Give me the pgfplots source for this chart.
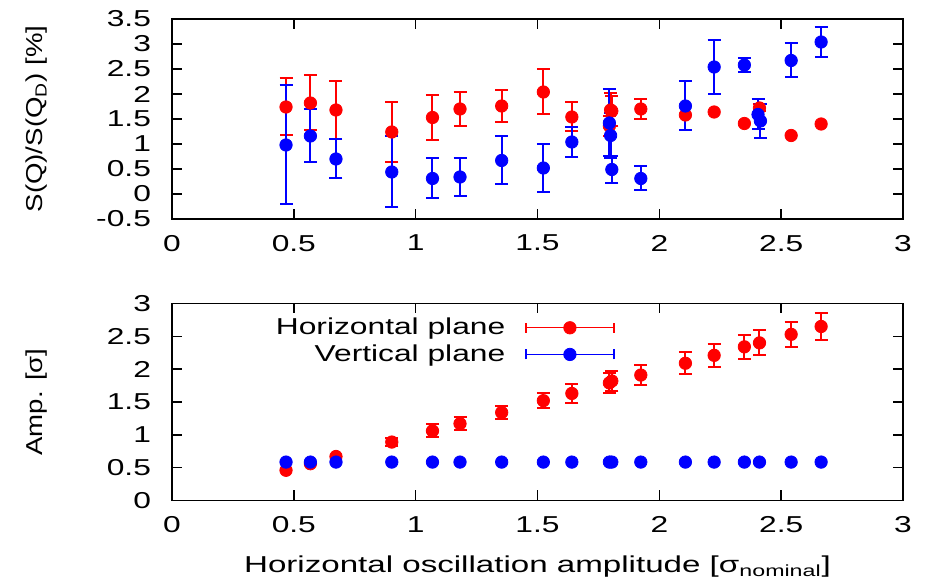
\documentclass[border=0pt]{standalone}
\usepackage{fontspec}
\setmainfont{Liberation Sans}[FakeStretch=1.38]
\newfontfamily\ylfont{Liberation Sans}[FakeStretch=1.2]
\newfontfamily\xlfont{Liberation Sans}[FakeStretch=1.44]
\usepackage{pgfplots}
\usepackage{pgfplotstable}
\pgfplotsset{compat=1.18}

\pgfplotstableread{
x y e
0.468 1.74 0.57
0.568 1.82 0.55
0.673 1.68 0.58
0.902 1.24 0.60
1.069 1.53 0.45
1.182 1.70 0.34
1.353 1.76 0.32
1.524 2.04 0.45
1.641 1.54 0.29
1.795 1.36 0.20
1.800 1.68 0.33
1.805 1.66 0.30
1.924 1.70 0.20
2.411 1.72 0.07
}\topredE
\pgfplotstableread{
x y
2.107 1.58
2.225 1.64
2.349 1.41
2.541 1.17
2.664 1.40
}\topredN
\pgfplotstableread{
x y e
0.468 0.98 1.19
0.568 1.16 0.53
0.673 0.70 0.39
0.902 0.44 0.71
1.069 0.31 0.40
1.182 0.34 0.38
1.353 0.67 0.48
1.524 0.52 0.48
1.641 1.04 0.30
1.795 1.42 0.67
1.800 1.17 0.45
1.805 0.49 0.27
1.924 0.31 0.24
2.107 1.76 0.49
2.225 2.54 0.54
2.349 2.58 0.14
2.405 1.59 0.30
2.415 1.46 0.34
2.541 2.67 0.34
2.664 3.04 0.30
}\topblue
\pgfplotstableread{
x y e
0.902 0.89 0.06
1.069 1.06 0.10
1.182 1.17 0.10
1.353 1.34 0.10
1.524 1.52 0.11
1.641 1.63 0.14
1.795 1.79 0.15
1.805 1.82 0.15
1.924 1.91 0.15
2.107 2.09 0.17
2.225 2.21 0.17
2.349 2.34 0.18
2.411 2.40 0.19
2.541 2.53 0.19
2.664 2.65 0.21
}\botredE
\pgfplotstableread{
x y
0.468 0.46
0.568 0.56
0.673 0.67
}\botredN
\pgfplotstableread{
x y
0.468 0.585
0.568 0.585
0.673 0.585
0.902 0.585
1.069 0.585
1.182 0.585
1.353 0.585
1.524 0.585
1.641 0.585
1.795 0.585
1.805 0.585
1.924 0.585
2.107 0.585
2.225 0.585
2.349 0.585
2.411 0.585
2.541 0.585
2.664 0.585
}\botblue

\pgfplotsset{
  gp/.style={
    scale only axis, width=365.5pt,
    xmin=0, xmax=3, xtick={0,0.5,1,1.5,2,2.5,3},
    tick align=inside, xtick pos=both, ytick pos=both,
    xticklabel pos=lower, yticklabel pos=left,
    major tick length=5pt,
    axis line style={line width=0.7pt},
    every tick/.style={black, line width=0.7pt},
    /pgf/number format/assume math mode=true,
    tick label style={font=\fontsize{11.5}{13}\selectfont},
    yticklabel style={xshift=-7pt},
    xticklabel style={yshift=-4.5pt},
  },
  pr/.style={red, only marks, mark=*, mark size=3.1pt, mark options={solid, fill=red, draw=red}},
  pb/.style={blue, only marks, mark=*, mark size=3.1pt, mark options={solid, fill=blue, draw=blue}},
  eb/.style={error bars/.cd, y dir=both, y explicit, error mark=|,
    error bar style={line width=1pt},
    error mark options={line width=1pt, mark size=3.25pt}, /pgfplots/.cd},
}

\begin{document}
\begin{tikzpicture}
\useasboundingbox (-86pt,-184pt) rectangle (377.5pt,109.5pt);
\begin{axis}[gp, height=100pt, at={(0pt,0pt)}, anchor=south west,
  ymin=-0.5, ymax=3.5, ytick={-0.5,0,0.5,1,1.5,2,2.5,3,3.5},
  ylabel={S(Q)/S(Q\textsubscript{D}) [\%]},
  ylabel style={at={(axis description cs:-0.1847,0.5)}, anchor=center, font=\ylfont\fontsize{11.5}{13}\selectfont},
]
\addplot[pr, eb] table[x=x, y=y, y error=e] {\topredE};
\addplot[pr] table[x=x, y=y] {\topredN};
\addplot[pb, eb] table[x=x, y=y, y error=e] {\topblue};
\end{axis}

\begin{axis}[gp, height=98.5pt, at={(0pt,-140.75pt)}, anchor=south west,
  ymin=0, ymax=3, ytick={0,0.5,1,1.5,2,2.5,3},
  ylabel={Amp. [σ]},
  ylabel style={at={(axis description cs:-0.1847,0.5)}, anchor=center, font=\ylfont\fontsize{11.5}{13}\selectfont},
  xlabel={Horizontal oscillation amplitude [σ\textsubscript{nominal}]},
  xlabel style={at={(axis description cs:0.5,-0.335)}, anchor=center, font=\xlfont\fontsize{11.5}{13}\selectfont},
  legend image code/.code={
    \draw[#1, line width=0.65pt] (0pt,0pt) -- (44pt,0pt);
    \draw[#1, line width=0.65pt] (0pt,-2.5pt) -- (0pt,2.5pt);
    \draw[#1, line width=0.65pt] (44pt,-2.5pt) -- (44pt,2.5pt);
    \fill[#1] (22pt,0pt) circle (3.1pt);
  },
  legend plot pos=right,
  legend cell align=right,
  legend style={draw=none, fill=none, at={(0.606,0.809)}, anchor=east,
    inner sep=0pt, font=\fontsize{11.5}{13}\selectfont,
    row sep=1.5pt, column sep=9pt, nodes={inner sep=1pt}},
]
\addlegendimage{red}
\addlegendentry{Horizontal plane}
\addlegendimage{blue}
\addlegendentry{Vertical plane}
\addplot[forget plot, pr, eb] table[x=x, y=y, y error=e] {\botredE};
\addplot[forget plot, pr] table[x=x, y=y] {\botredN};
\addplot[forget plot, pb] table[x=x, y=y] {\botblue};
\end{axis}
\end{tikzpicture}
\end{document}
